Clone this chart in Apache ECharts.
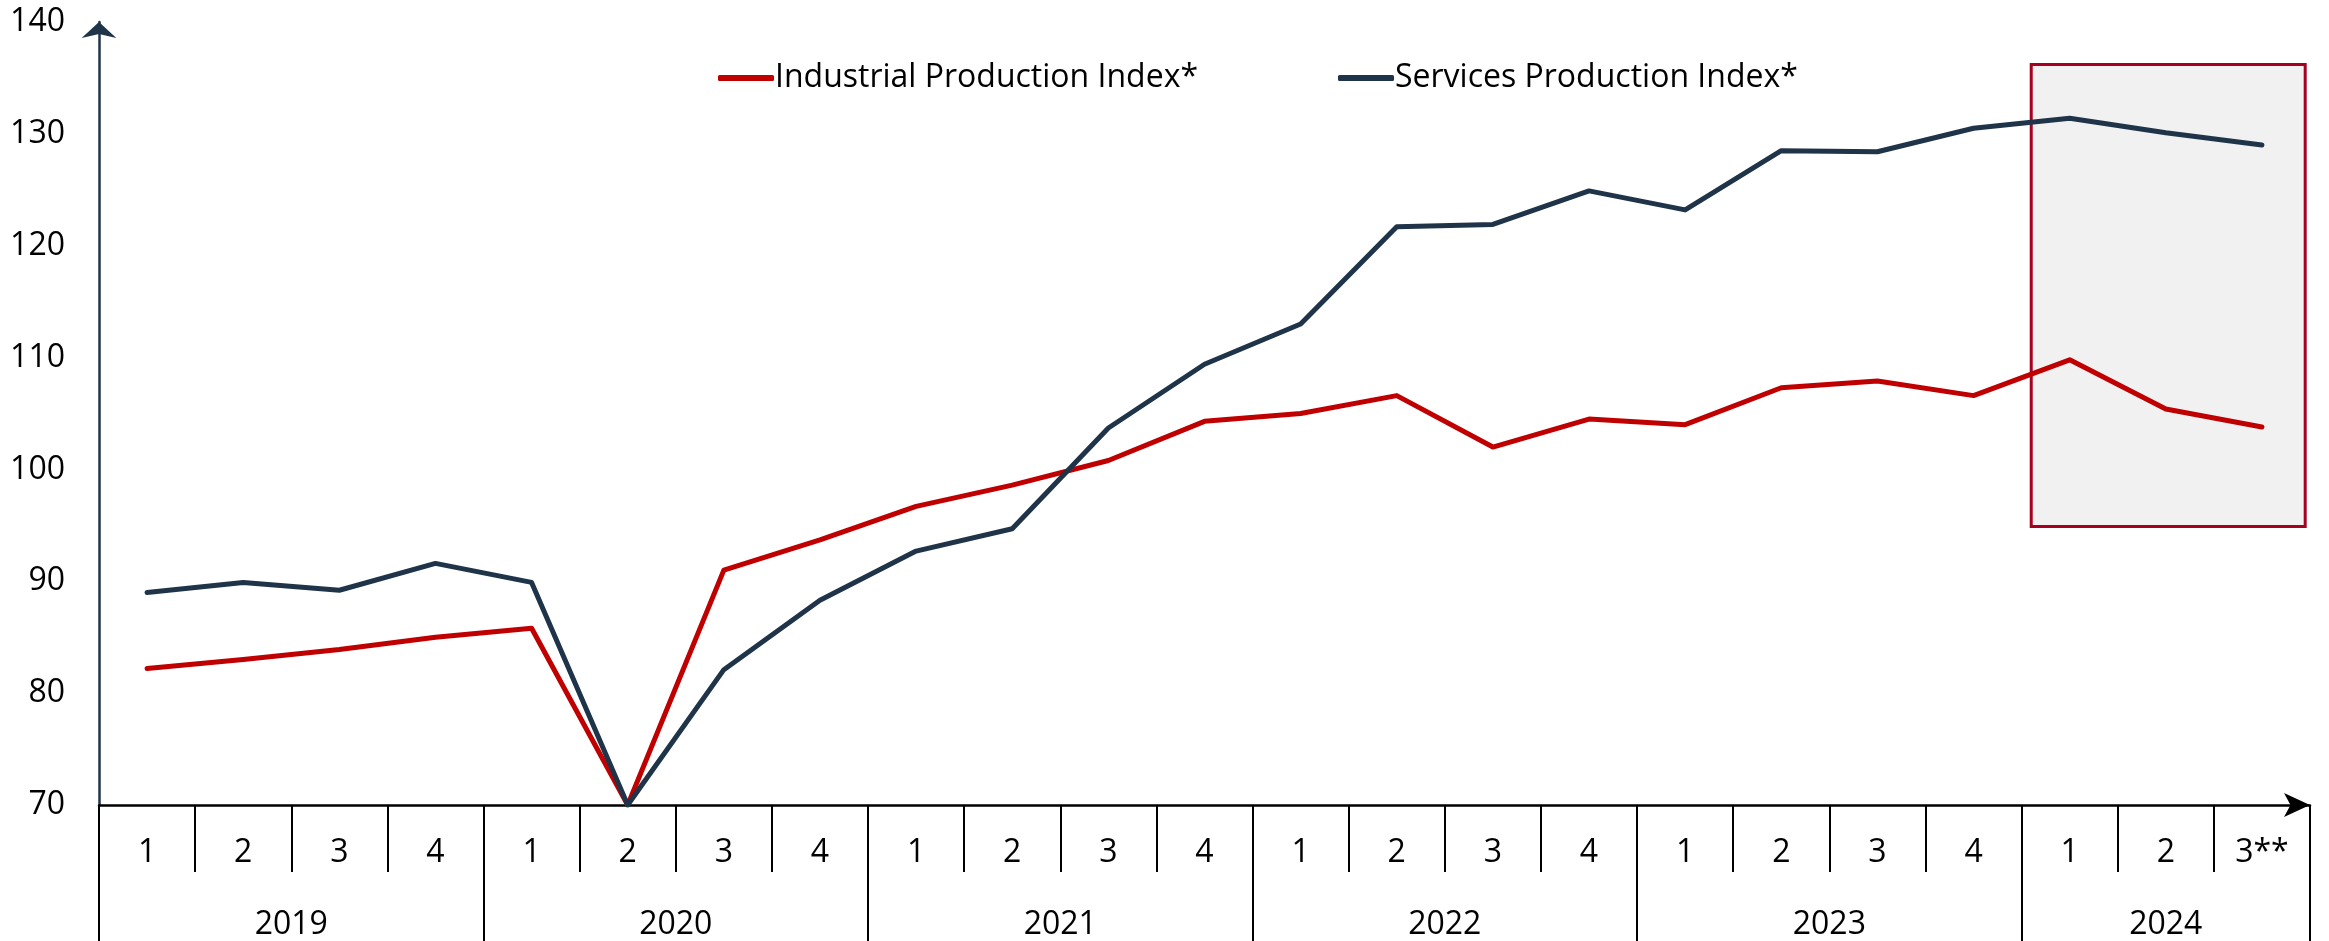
<!DOCTYPE html>
<html>
<head>
<meta charset="utf-8">
<script src="https://cdn.jsdelivr.net/npm/echarts@6/dist/echarts.min.js"></script>
<style>
  html, body { margin: 0; padding: 0; background: #fff; }
  #main { width: 2329px; height: 941px; }
</style>
</head>
<body>
<div id="main"></div>
<script>
var years = ['2019', '2020', '2021', '2022', '2023', '2024'];
var quartersPerYear = [4, 4, 4, 4, 4, 3];
var quarterLabels = ['1', '2', '3', '4', '1', '2', '3', '4', '1', '2', '3', '4',
  '1', '2', '3', '4', '1', '2', '3', '4', '1', '2', '3**'];

var industrial = [82.2, 83.0, 83.9, 85.0, 85.8, 70.0, 91.0, 93.7, 96.7, 98.6, 100.8, 104.3,
  105.0, 106.6, 102.0, 104.5, 104.0, 107.3, 107.9, 106.6, 109.8, 105.4, 103.8];
var services = [89.0, 89.9, 89.2, 91.6, 89.9, 70.0, 82.1, 88.3, 92.7, 94.7, 103.7, 109.4,
  113.0, 121.7, 121.9, 124.9, 123.2, 128.5, 128.4, 130.5, 131.4, 130.1, 129.0];

// highlighted period (quarter units on a 0..23 scale, index units on y)
var boxX = [20.1, 22.95];
var boxY = [94.9, 136.2];

var red = '#c00000';
var navy = '#1f3449';
var font = 'Open Sans';

// category keys for the quarter axis
var cats = [];
years.forEach(function (y, i) {
  for (var q = 0; q < quartersPerYear[i]; q++) cats.push(y + '-' + q);
});

// year axis: half-quarter slots, labels centred on each year
var yearSlots = [];
var yearEdges = [];
var s = 0;
years.forEach(function (y, i) {
  yearEdges.push(s);
  for (var k = 0; k < quartersPerYear[i] * 2; k++) {
    yearSlots.push(k === quartersPerYear[i] ? y : '');
  }
  s += quartersPerYear[i] * 2;
});
yearSlots.push('');
yearEdges.push(s);

var myChart = echarts.init(document.getElementById('main'));

var option = {
  backgroundColor: '#fff',
  animation: false,
  textStyle: { fontFamily: font },
  grid: { left: 99, right: 19, top: 22, bottom: 135, containLabel: false },
  legend: {
    left: 713,
    top: 57,
    itemWidth: 56,
    itemHeight: 6,
    itemGap: 140,
    icon: 'roundRect',
    textStyle: { fontFamily: font, fontSize: 32, color: '#000', padding: [0, 0, 0, -4] },
    data: ['Industrial Production Index*', 'Services Production Index*']
  },
  xAxis: [{
    type: 'category',
    data: cats,
    boundaryGap: true,
    axisLine: {
      lineStyle: { color: '#000', width: 2.5 },
      symbol: ['none', 'arrow'],
      symbolSize: [18, 26],
      symbolOffset: [0, 0]
    },
    axisTick: { show: true, length: 67, lineStyle: { color: '#000', width: 2 } },
    axisLabel: {
      fontFamily: font, fontSize: 32, color: '#000', margin: 32,
      formatter: function (v, i) { return quarterLabels[i]; }
    },
    splitLine: { show: false }
  }, {
    type: 'category',
    data: yearSlots,
    boundaryGap: false,
    position: 'bottom',
    axisLine: { show: false },
    axisTick: {
      show: true, length: 140, lineStyle: { color: '#000', width: 2 },
      interval: function (i) { return yearEdges.indexOf(i) >= 0; }
    },
    axisLabel: {
      fontFamily: font, fontSize: 32, color: '#000', margin: 104,
      interval: function (i, v) { return v !== ''; }
    },
    splitLine: { show: false }
  }, {
    type: 'value',
    min: 0,
    max: 23,
    show: false
  }],
  yAxis: {
    type: 'value',
    min: 70,
    max: 140,
    interval: 10,
    axisLine: {
      show: true,
      lineStyle: { color: navy, width: 2.5 },
      symbol: ['none', 'arrow'],
      symbolSize: [26, 16]
    },
    axisTick: { show: false },
    splitLine: { show: false },
    axisLabel: { fontFamily: font, fontSize: 32, color: '#000', margin: 34 }
  },
  series: [{
    name: 'box',
    type: 'line',
    xAxisIndex: 2,
    data: [],
    silent: true,
    z: 1,
    markArea: {
      silent: true,
      itemStyle: { color: '#f1f1f1', borderColor: '#a50021', borderWidth: 3 },
      data: [[{ xAxis: boxX[0], yAxis: boxY[0] }, { xAxis: boxX[1], yAxis: boxY[1] }]]
    }
  }, {
    name: 'Industrial Production Index*',
    type: 'line',
    data: industrial,
    symbol: 'none',
    z: 3,
    color: red,
    lineStyle: { color: red, width: 5, cap: 'round', join: 'round' }
  }, {
    name: 'Services Production Index*',
    type: 'line',
    data: services,
    symbol: 'none',
    z: 3,
    color: navy,
    lineStyle: { color: navy, width: 5, cap: 'round', join: 'round' }
  }]
};
myChart.setOption(option);
</script>
</body>
</html>
